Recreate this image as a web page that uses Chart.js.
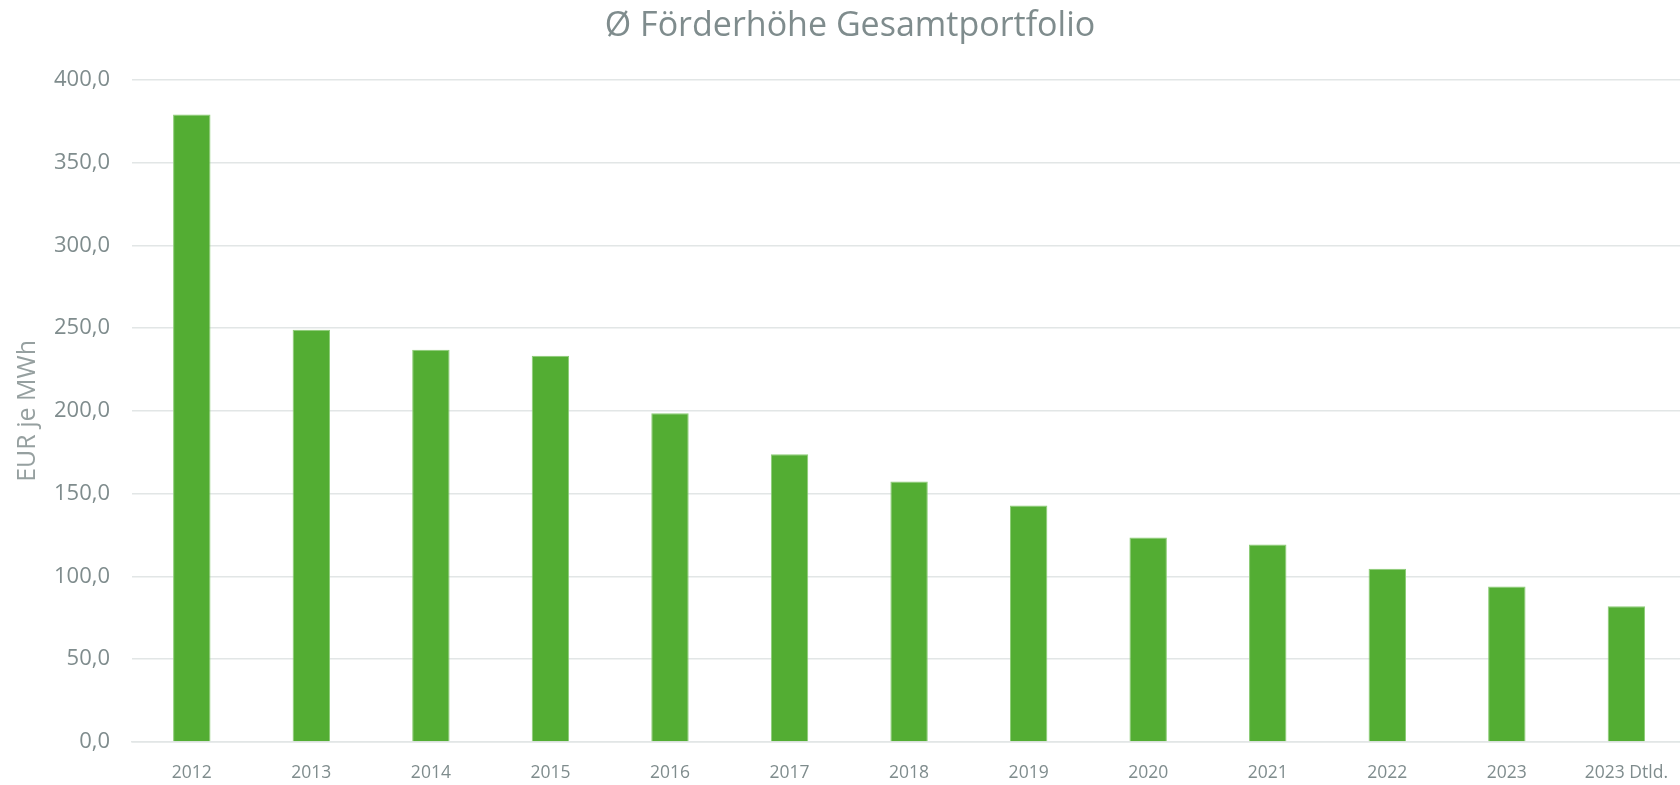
<!DOCTYPE html>
<html>
<head>
<meta charset="utf-8">
<script src="https://cdn.jsdelivr.net/npm/chart.js@4"></script>
<style>
  html, body { margin: 0; padding: 0; background: #fff; overflow: hidden; }
  #wrap { width: 1689px; height: 785px; }
</style>
</head>
<body>
<div id="wrap"><canvas id="c"></canvas></div>
<script>
// data
var years = ["2012","2013","2014","2015","2016","2017","2018","2019","2020","2021","2022","2023","2023 Dtld."]
var values = [379.0, 249.0, 236.9, 233.3, 198.6, 173.8, 157.4, 142.9, 123.6, 119.3, 104.6, 93.9, 82.0]

var titleText = "Ø Förderhöhe Gesamtportfolio"
var yTitle = "EUR je MWh"

var text_color = "rgb(127,140,141)"
var grid_color = "rgb(226,230,230)"
var bar_color = "rgb(83,173,51)"
var bar_border = "rgb(140,204,118)"

function fmt(v){ // german decimal comma
    return v.toFixed(1).replace(".", ",")
}

var config = {
    type: 'bar',
    data: {
        labels: years,
        datasets: [{
            label: yTitle,
            data: values,
            backgroundColor: bar_color,
            borderColor: bar_border,
            borderWidth: 1,
            categoryPercentage: 1,
            barPercentage: 0.313
        }]
    },
    options: {
        responsive: true,
        maintainAspectRatio: false,
        animation: false,
        layout: { padding: { top: 6, right: 0, bottom: -20, left: 11 } },
        plugins: {
            legend: { display: false },
            tooltip: { enabled: false },
            title: {
                display: true,
                text: titleText,
                color: text_color,
                font: { family: "Open Sans", size: 34, weight: 'normal' },
                padding: { top: 0, bottom: 33 }
            }
        },
        scales: {
            y: {
                min: 0,
                max: 400,
                ticks: {
                    stepSize: 50,
                    color: text_color,
                    font: { family: "Open Sans", size: 22 },
                    padding: 22,
                    callback: function(v){ return fmt(v) }
                },
                grid: { color: grid_color, lineWidth: 1.5, drawTicks: false },
                border: { display: false },
                title: {
                    display: true,
                    text: yTitle,
                    color: "rgb(150,160,160)",
                    font: { family: "Open Sans", size: 25, weight: 'normal' },
                    padding: { top: 2, bottom: -11 }
                }
            },
            x: {
                ticks: {
                    color: text_color,
                    font: { family: "Open Sans", size: 17.5 },
                    padding: 21,
                    maxRotation: 0,
                    autoSkip: false
                },
                grid: { display: false, drawTicks: false },
                border: { display: true, color: grid_color, width: 1.5 }
            }
        }
    }
}

var chart = new Chart(document.getElementById("c"), config)
</script>
</body>
</html>
